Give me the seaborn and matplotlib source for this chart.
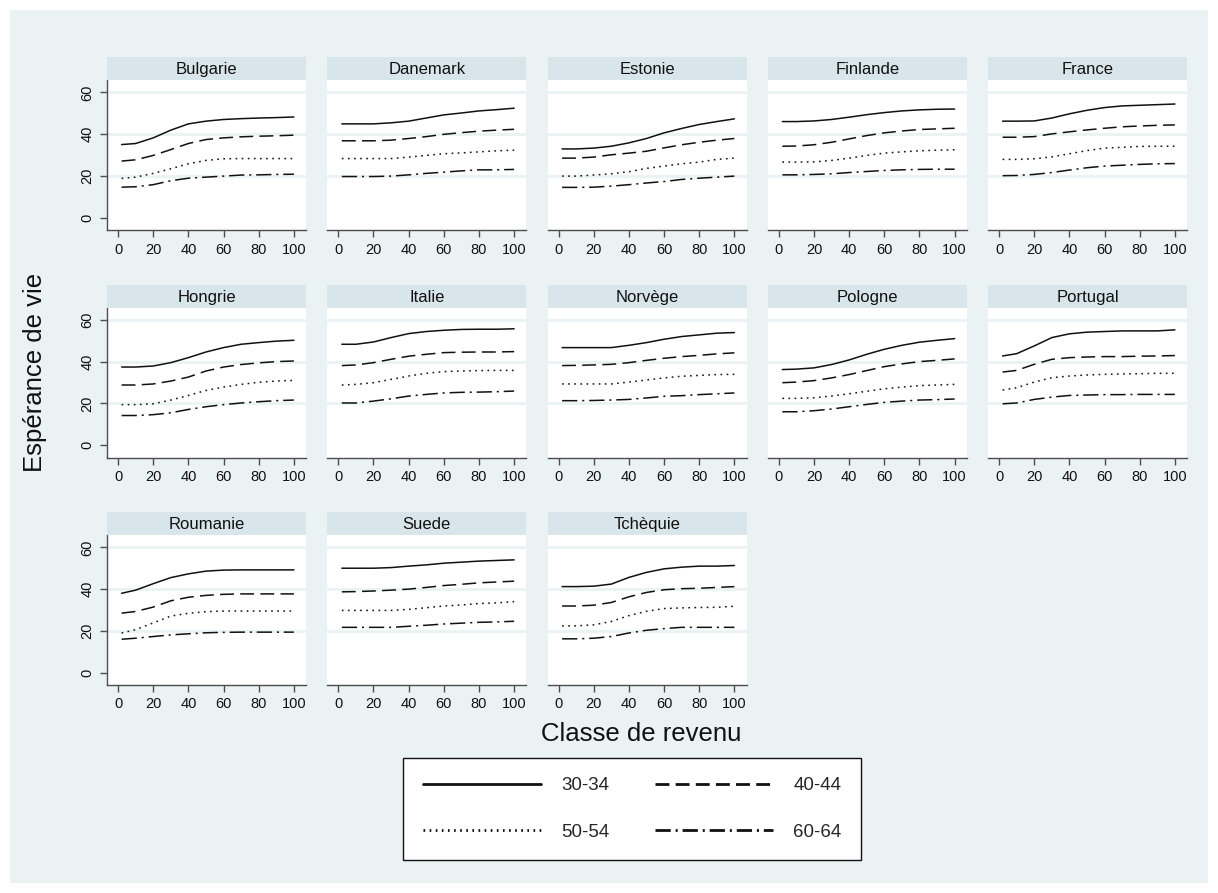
import numpy as np
import pandas as pd
import seaborn as sns
import matplotlib.pyplot as plt
from matplotlib.patches import Rectangle

# Classe de revenu
revenu = [2, 10, 20, 30, 40, 50, 60, 70, 80, 90, 100]
ages = ['30-34', '40-44', '50-54', '60-64']
pays = ['Bulgarie', 'Danemark', 'Estonie', 'Finlande', 'France',
        'Hongrie', 'Italie', 'Norvège', 'Pologne', 'Portugal',
        'Roumanie', 'Suede', 'Tchèquie']

# one row per age group: 30-34, 40-44, 50-54, 60-64
bulgarie = [[35.0, 35.5, 38.2, 41.9, 44.9, 46.2, 47.0, 47.4, 47.7, 47.9, 48.2],
            [27.1, 27.7, 29.8, 32.6, 35.5, 37.4, 38.2, 38.7, 39.0, 39.2, 39.5],
            [18.8, 19.4, 21.2, 23.4, 25.8, 27.4, 28.2, 28.3, 28.3, 28.3, 28.3],
            [14.6, 14.8, 15.8, 17.7, 18.9, 19.4, 19.9, 20.4, 20.5, 20.7, 20.8]]
danemark = [[44.9, 44.9, 44.9, 45.4, 46.2, 47.7, 49.2, 50.1, 51.1, 51.7, 52.4],
            [36.8, 36.8, 36.8, 37.1, 37.9, 38.8, 39.9, 40.7, 41.4, 41.9, 42.3],
            [28.3, 28.3, 28.3, 28.3, 29.0, 29.8, 30.6, 31.0, 31.5, 32.0, 32.3],
            [19.7, 19.7, 19.7, 19.9, 20.5, 21.2, 21.8, 22.4, 22.9, 22.9, 23.1]]
estonie = [[32.9, 32.9, 33.3, 34.2, 35.8, 37.9, 40.6, 42.7, 44.6, 46.0, 47.3],
           [28.5, 28.5, 29.0, 30.1, 30.9, 31.8, 33.4, 34.9, 36.1, 37.1, 37.9],
           [19.9, 19.9, 20.4, 21.0, 22.0, 23.6, 24.7, 25.8, 26.6, 27.9, 28.5],
           [14.5, 14.5, 14.6, 15.1, 15.8, 16.6, 17.3, 18.3, 18.9, 19.4, 19.9]]
finlande = [[46.0, 46.0, 46.3, 47.0, 48.1, 49.3, 50.3, 51.1, 51.6, 51.9, 52.0],
            [34.2, 34.3, 34.9, 36.1, 37.7, 39.3, 40.6, 41.5, 42.2, 42.5, 42.8],
            [26.6, 26.6, 26.7, 27.4, 28.5, 29.8, 30.9, 31.5, 32.0, 32.3, 32.5],
            [20.5, 20.5, 20.7, 21.0, 21.6, 22.1, 22.6, 22.9, 23.1, 23.2, 23.2]]
france = [[46.2, 46.2, 46.3, 47.7, 49.7, 51.4, 52.7, 53.5, 53.8, 54.1, 54.4],
          [38.5, 38.5, 38.8, 40.1, 41.1, 42.0, 42.8, 43.5, 43.9, 44.2, 44.4],
          [27.9, 27.9, 28.2, 29.1, 30.6, 32.1, 33.3, 33.7, 34.1, 34.2, 34.2],
          [20.1, 20.2, 20.7, 21.6, 22.8, 23.9, 24.7, 25.1, 25.5, 25.8, 25.9]]
hongrie = [[37.4, 37.4, 37.9, 39.5, 41.9, 44.6, 46.7, 48.3, 49.1, 49.8, 50.2],
           [28.8, 28.8, 29.3, 30.7, 32.6, 35.5, 37.4, 38.6, 39.4, 40.0, 40.3],
           [19.4, 19.4, 19.8, 21.6, 23.8, 26.2, 27.8, 29.1, 30.1, 30.7, 31.0],
           [14.2, 14.2, 14.6, 15.5, 17.1, 18.4, 19.4, 20.2, 20.8, 21.3, 21.6]]
italie = [[48.3, 48.3, 49.4, 51.5, 53.4, 54.4, 55.0, 55.4, 55.5, 55.5, 55.7],
          [38.1, 38.4, 39.5, 41.1, 42.6, 43.5, 44.3, 44.5, 44.6, 44.6, 44.8],
          [28.8, 29.1, 29.9, 31.5, 33.1, 34.4, 35.2, 35.5, 35.7, 35.8, 35.8],
          [20.2, 20.2, 21.1, 22.2, 23.5, 24.3, 25.0, 25.3, 25.4, 25.6, 25.9]]
norvege = [[46.7, 46.7, 46.7, 46.7, 47.8, 49.1, 50.7, 52.0, 52.8, 53.6, 53.9],
           [38.1, 38.2, 38.4, 38.7, 39.5, 40.6, 41.6, 42.4, 43.0, 43.7, 44.2],
           [29.3, 29.3, 29.3, 29.3, 30.2, 31.2, 32.2, 33.0, 33.4, 33.8, 33.9],
           [21.3, 21.3, 21.4, 21.6, 21.9, 22.6, 23.4, 23.7, 24.2, 24.6, 25.0]]
pologne = [[36.2, 36.4, 37.0, 38.6, 40.8, 43.5, 45.9, 47.8, 49.3, 50.2, 51.0],
           [29.9, 30.2, 30.9, 32.2, 33.8, 35.7, 37.6, 38.9, 40.0, 40.6, 41.3],
           [22.4, 22.4, 22.7, 23.5, 24.6, 25.8, 27.0, 27.8, 28.5, 28.8, 29.1],
           [16.0, 16.0, 16.5, 17.3, 18.4, 19.5, 20.5, 21.1, 21.6, 21.8, 22.1]]
portugal = [[42.7, 43.8, 47.5, 51.5, 53.3, 54.1, 54.4, 54.7, 54.7, 54.7, 55.2],
            [35.0, 35.8, 38.7, 41.1, 41.9, 42.2, 42.4, 42.4, 42.6, 42.7, 42.9],
            [26.4, 27.5, 30.2, 32.3, 33.1, 33.6, 33.9, 34.1, 34.2, 34.4, 34.4],
            [19.8, 20.2, 21.9, 23.0, 23.8, 24.0, 24.2, 24.2, 24.3, 24.3, 24.3]]
roumanie = [[38.0, 39.5, 42.6, 45.5, 47.3, 48.6, 49.1, 49.2, 49.2, 49.2, 49.2],
            [28.5, 29.3, 31.4, 34.4, 36.1, 37.0, 37.5, 37.7, 37.7, 37.7, 37.7],
            [19.0, 20.6, 23.8, 27.1, 28.4, 29.2, 29.5, 29.5, 29.5, 29.5, 29.5],
            [16.0, 16.5, 17.3, 18.1, 18.6, 19.1, 19.3, 19.4, 19.4, 19.4, 19.4]]
suede = [[50.0, 50.0, 50.0, 50.3, 51.0, 51.6, 52.4, 52.9, 53.4, 53.7, 54.0],
         [38.7, 38.8, 39.1, 39.5, 40.0, 40.8, 41.7, 42.3, 43.0, 43.4, 43.8],
         [29.8, 29.8, 29.8, 29.8, 30.3, 31.1, 31.9, 32.4, 33.1, 33.4, 34.0],
         [21.7, 21.7, 21.7, 21.7, 22.2, 22.7, 23.3, 23.7, 24.1, 24.3, 24.6]]
tchequie = [[41.2, 41.2, 41.4, 42.4, 45.6, 48.0, 49.7, 50.5, 51.0, 51.0, 51.3],
            [31.9, 31.9, 32.3, 33.6, 36.3, 38.4, 39.7, 40.2, 40.4, 40.8, 41.2],
            [22.4, 22.4, 22.9, 24.5, 27.3, 29.4, 30.7, 31.0, 31.2, 31.3, 31.8],
            [16.2, 16.2, 16.5, 17.3, 19.0, 20.3, 21.1, 21.7, 21.7, 21.7, 21.7]]

courbes = [bulgarie, danemark, estonie, finlande, france, hongrie, italie,
           norvege, pologne, portugal, roumanie, suede, tchequie]

rows = []
for p, c in zip(pays, courbes):
    for a, vals in zip(ages, c):
        for x, v in zip(revenu, vals):
            rows.append({'pays': p, 'age': a, 'revenu': x, 'esperance': v})
df = pd.DataFrame(rows)

sns.set_theme(style='white')
plt.rcParams['font.family'] = ['Liberation Sans', 'DejaVu Sans']
plt.rcParams['lines.scale_dashes'] = False

bg = '#EAF2F3'
strip = '#D8E5EA'
axcol = '#4D4D4D'
dashes = {'30-34': '', '40-44': (10, 4.5), '50-54': (1.2, 3.2), '60-64': (11, 3.5, 1.5, 3.5)}

W, H = 1218, 893
fig = plt.figure(figsize=(W / 100, H / 100), dpi=100, facecolor='white')
# Stata-like graph region inside a thin white margin
m = 10
fig.patches.append(Rectangle((m / W, m / H), 1 - 2 * m / W, 1 - 2 * m / H,
                             transform=fig.transFigure, facecolor=bg, edgecolor='none',
                             zorder=-10))

handles = None
for i, p in enumerate(pays):
    r, c = divmod(i, 5)
    left = 107 + 220.25 * c
    top = 80 + 227.5 * r
    w, h = 199, 150
    ax = fig.add_axes([left / W, 1 - (top + h) / H, w / W, h / H])
    ax.set_facecolor('white')
    sub = df[df['pays'] == p]
    sns.lineplot(data=sub, x='revenu', y='esperance', style='age', style_order=ages,
                 dashes=dashes, color='#111111', linewidth=1.1, errorbar=None,
                 legend=(i == 0), ax=ax)
    if i == 0:
        hs, ls = ax.get_legend_handles_labels()
        handles = {l: hh for hh, l in zip(hs, ls) if l in ages}
        ax.get_legend().remove()
    ax.set_xlim(-6.3, 106.9)
    ax.set_ylim(-5.9, 65.9)
    ax.set_xticks([0, 20, 40, 60, 80, 100])
    ax.set_yticks([0, 20, 40, 60])
    ax.set_xlabel('')
    ax.set_ylabel('')
    ax.yaxis.grid(True, color=bg, linewidth=2)
    ax.get_ygridlines()[0].set_visible(False)
    for s in ['top', 'right']:
        ax.spines[s].set_visible(False)
    ax.spines['bottom'].set_color(axcol)
    ax.spines['bottom'].set_linewidth(1)
    ax.tick_params(axis='x', direction='out', length=5, width=1, color=axcol,
                   labelsize=10.5, pad=4, bottom=True, labelcolor='#111111')
    if c == 0:
        ax.spines['left'].set_color(axcol)
        ax.spines['left'].set_linewidth(1)
        ax.tick_params(axis='y', direction='out', length=5, width=1, color=axcol,
                       labelsize=10.5, pad=4, left=True, labelrotation=90, labelcolor='#111111')
        for t in ax.get_yticklabels():
            t.set_va('center')
    else:
        ax.spines['left'].set_visible(False)
        ax.tick_params(axis='y', left=False, labelleft=False)

    # strip header
    sh = 23
    sax = fig.add_axes([left / W, 1 - top / H, w / W, sh / H])
    sax.set_facecolor(strip)
    sax.set_xticks([])
    sax.set_yticks([])
    for s in sax.spines.values():
        s.set_visible(False)
    sax.text(0.5, 0.45, p, ha='center', va='center', fontsize=12, color='#111111',
             transform=sax.transAxes)

fig.text(35 / W, 1 - 372 / H, 'Espérance de vie', rotation=90, ha='center', va='center',
         fontsize=18.5, color='#111111')
fig.text(641 / W, 1 - 734 / H, 'Classe de revenu', ha='center', va='center',
         fontsize=18.5, color='#111111')

order = ['30-34', '50-54', '40-44', '60-64']
leg_h = [handles[a] for a in order]
for hh in leg_h:
    hh.set_linewidth(2.0)
leg = fig.legend(leg_h, order, loc='center', bbox_to_anchor=(632 / W, 1 - 809 / H),
                 ncol=2, fontsize=13.5, handlelength=6.3, handletextpad=1.1,
                 columnspacing=2.4, labelspacing=1.55, borderpad=1.05,
                 frameon=True, fancybox=False, edgecolor='#111111', facecolor='white',
                 framealpha=1)
leg.get_frame().set_linewidth(1)

fig.savefig('out.png', dpi=100, facecolor='white')
